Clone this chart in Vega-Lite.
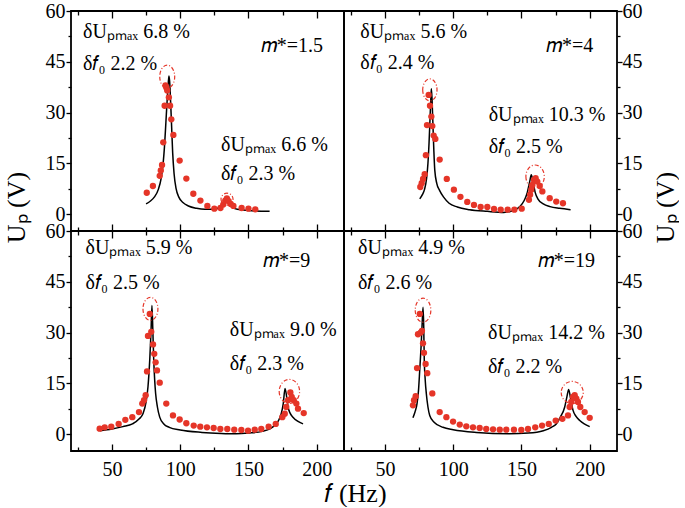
{
  "$schema": "https://vega.github.io/schema/vega-lite/v6.json",
  "padding": {"left": 2, "top": 0, "right": 0, "bottom": 0},
  "config": {
    "font": "Liberation Serif, Times New Roman, serif",
    "view": {"stroke": "#000", "strokeWidth": 1.8},
    "axis": {"domain": false, "grid": false, "labelFont": "Liberation Serif, Times New Roman, serif", "labelFontSize": 20, "labelColor": "#000", "tickColor": "#000", "tickWidth": 1.3, "titleFont": "Liberation Serif, Times New Roman, serif", "titleFontSize": 26, "titleFontWeight": "normal", "titleColor": "#000", "labelFlush": false}
  },
  "datasets": {
    "pts": [
      {"p":"A","f":75.5,"u":6.3},{"p":"A","f":80,"u":8.3},{"p":"A","f":85,"u":11.3},{"p":"A","f":85.8,"u":12.9},{"p":"A","f":86.7,"u":14.5},{"p":"A","f":87.6,"u":21.2},{"p":"A","f":88.6,"u":32},{"p":"A","f":89.2,"u":38},{"p":"A","f":89.8,"u":37.4},{"p":"A","f":90.5,"u":36.5},{"p":"A","f":91.7,"u":34.5},{"p":"A","f":92.6,"u":32},{"p":"A","f":93.5,"u":28},{"p":"A","f":95,"u":23.4},{"p":"A","f":99.6,"u":15.8},{"p":"A","f":104.5,"u":10.5},{"p":"A","f":109.6,"u":6},{"p":"A","f":114.8,"u":4},{"p":"A","f":119.9,"u":2.4},{"p":"A","f":125,"u":1.6},{"p":"A","f":129.5,"u":1.8},{"p":"A","f":131.5,"u":2.8},{"p":"A","f":133,"u":4.0},{"p":"A","f":134.2,"u":4.6},{"p":"A","f":135.5,"u":3.8},{"p":"A","f":137,"u":3},{"p":"A","f":139,"u":2.4},{"p":"A","f":145,"u":1.8},{"p":"A","f":150,"u":1.6},{"p":"A","f":155,"u":1.4},
      {"p":"B","f":75.9,"u":8.0},{"p":"B","f":76.9,"u":9.1},{"p":"B","f":77.9,"u":10.4},{"p":"B","f":79.1,"u":11.8},{"p":"B","f":80,"u":17.4},{"p":"B","f":80.8,"u":26.3},{"p":"B","f":82,"u":35.2},{"p":"B","f":83,"u":32},{"p":"B","f":84,"u":28.8},{"p":"B","f":84.7,"u":26},{"p":"B","f":85.7,"u":23.2},{"p":"B","f":86.9,"u":22.2},{"p":"B","f":90.1,"u":16.1},{"p":"B","f":95.3,"u":10.4},{"p":"B","f":100.5,"u":7.2},{"p":"B","f":105.3,"u":5.1},{"p":"B","f":110.3,"u":3.6},{"p":"B","f":115.2,"u":2.7},{"p":"B","f":120.1,"u":2.1},{"p":"B","f":125,"u":2.1},{"p":"B","f":129.9,"u":1.5},{"p":"B","f":134.8,"u":1.3},{"p":"B","f":139.9,"u":1.3},{"p":"B","f":144.8,"u":1.3},{"p":"B","f":150.2,"u":1.6},{"p":"B","f":155.5,"u":4.2},{"p":"B","f":156.3,"u":5.7},{"p":"B","f":157.2,"u":7.2},{"p":"B","f":158,"u":8.6},{"p":"B","f":159.2,"u":10.1},{"p":"B","f":160.4,"u":10.6},{"p":"B","f":161.6,"u":9.6},{"p":"B","f":163.4,"u":8.3},{"p":"B","f":165.3,"u":6.7},{"p":"B","f":170.7,"u":4.7},{"p":"B","f":175.5,"u":3.7},{"p":"B","f":180.4,"u":3.2},
      {"p":"C","f":41,"u":1.6},{"p":"C","f":44.7,"u":2.0},{"p":"C","f":49.5,"u":2.2},{"p":"C","f":54.9,"u":3.0},{"p":"C","f":59.8,"u":4.2},{"p":"C","f":64.9,"u":5.0},{"p":"C","f":69.8,"u":6.5},{"p":"C","f":72.2,"u":9.0},{"p":"C","f":73.5,"u":10},{"p":"C","f":74.7,"u":11.5},{"p":"C","f":75.7,"u":18.5},{"p":"C","f":76.4,"u":29},{"p":"C","f":77.7,"u":35.5},{"p":"C","f":78.8,"u":30.2},{"p":"C","f":80.1,"u":26.5},{"p":"C","f":81,"u":23.7},{"p":"C","f":82,"u":21.2},{"p":"C","f":83,"u":18.8},{"p":"C","f":85,"u":15.2},{"p":"C","f":89.8,"u":9.0},{"p":"C","f":94.7,"u":5.5},{"p":"C","f":99.6,"u":4.3},{"p":"C","f":104.5,"u":3.2},{"p":"C","f":109.9,"u":2.5},{"p":"C","f":114.7,"u":2.2},{"p":"C","f":119.6,"u":2.0},{"p":"C","f":124.5,"u":1.8},{"p":"C","f":129.4,"u":1.5},{"p":"C","f":134.5,"u":1.5},{"p":"C","f":139.6,"u":1.3},{"p":"C","f":144.8,"u":1.2},{"p":"C","f":149.7,"u":1.0},{"p":"C","f":154.6,"u":1.3},{"p":"C","f":159.4,"u":1.5},{"p":"C","f":164.8,"u":2.2},{"p":"C","f":170,"u":3.0},{"p":"C","f":174.8,"u":5.0},{"p":"C","f":176.6,"u":6.0},{"p":"C","f":177.7,"u":8.0},{"p":"C","f":179,"u":10},{"p":"C","f":180.7,"u":12.3},{"p":"C","f":181.7,"u":11},{"p":"C","f":183.2,"u":10},{"p":"C","f":185.1,"u":9.0},{"p":"C","f":186.3,"u":7.5},{"p":"C","f":190.5,"u":6.2},
      {"p":"D","f":70.5,"u":8.5},{"p":"D","f":71.3,"u":10},{"p":"D","f":72.5,"u":11.2},{"p":"D","f":73.5,"u":19.5},{"p":"D","f":74.2,"u":29.5},{"p":"D","f":75.5,"u":35.5},{"p":"D","f":76.2,"u":30},{"p":"D","f":77.1,"u":30.5},{"p":"D","f":77.9,"u":26.8},{"p":"D","f":78.6,"u":24},{"p":"D","f":79.8,"u":20.7},{"p":"D","f":81,"u":18},{"p":"D","f":84.7,"u":12},{"p":"D","f":90.1,"u":6.5},{"p":"D","f":95,"u":5},{"p":"D","f":99.9,"u":3.7},{"p":"D","f":104.8,"u":2.8},{"p":"D","f":109.6,"u":2.3},{"p":"D","f":114.5,"u":2.0},{"p":"D","f":119.4,"u":1.8},{"p":"D","f":124.2,"u":1.5},{"p":"D","f":129.2,"u":1.4},{"p":"D","f":134.1,"u":1.3},{"p":"D","f":138.9,"u":1.3},{"p":"D","f":144.5,"u":1.3},{"p":"D","f":149.9,"u":1.2},{"p":"D","f":154.8,"u":1.5},{"p":"D","f":160.1,"u":2.0},{"p":"D","f":165.1,"u":2.5},{"p":"D","f":170,"u":3.0},{"p":"D","f":175.1,"u":4.0},{"p":"D","f":180,"u":4.5},{"p":"D","f":184.1,"u":5.5},{"p":"D","f":185.3,"u":8},{"p":"D","f":186.5,"u":9.5},{"p":"D","f":187.8,"u":11},{"p":"D","f":189,"u":11.5},{"p":"D","f":190.2,"u":10.5},{"p":"D","f":191.4,"u":9.5},{"p":"D","f":193.1,"u":8},{"p":"D","f":196.3,"u":6.5},{"p":"D","f":200,"u":4.8}
    ],
    "fit": [
      {"p":"A","f":75,"u":3.0},{"p":"A","f":78,"u":3.8},{"p":"A","f":81,"u":5.0},{"p":"A","f":84,"u":7.3},{"p":"A","f":86,"u":10.5},{"p":"A","f":87.5,"u":15},{"p":"A","f":88.5,"u":20},{"p":"A","f":89.5,"u":27},{"p":"A","f":90.5,"u":34},{"p":"A","f":91.3,"u":39},{"p":"A","f":91.8,"u":40.8},{"p":"A","f":92.3,"u":39},{"p":"A","f":93,"u":33},{"p":"A","f":93.7,"u":26},{"p":"A","f":94.5,"u":18},{"p":"A","f":95.5,"u":12},{"p":"A","f":97,"u":7.5},{"p":"A","f":99,"u":5},{"p":"A","f":102,"u":3.4},{"p":"A","f":106,"u":2.4},{"p":"A","f":112,"u":1.7},{"p":"A","f":118,"u":1.4},{"p":"A","f":124,"u":1.4},{"p":"A","f":128,"u":1.8},{"p":"A","f":131,"u":2.6},{"p":"A","f":133,"u":3.6},{"p":"A","f":134,"u":4.0},{"p":"A","f":135,"u":3.4},{"p":"A","f":137,"u":2.3},{"p":"A","f":140,"u":1.6},{"p":"A","f":146,"u":1.2},{"p":"A","f":155,"u":0.9},{"p":"A","f":165.5,"u":0.8},
      {"p":"B","f":75.5,"u":4.5},{"p":"B","f":77.5,"u":5.8},{"p":"B","f":79,"u":7.3},{"p":"B","f":80.5,"u":10.5},{"p":"B","f":81.5,"u":15},{"p":"B","f":82.3,"u":21},{"p":"B","f":83,"u":28},{"p":"B","f":83.6,"u":34},{"p":"B","f":84,"u":37},{"p":"B","f":84.5,"u":34},{"p":"B","f":85.1,"u":27},{"p":"B","f":85.8,"u":19},{"p":"B","f":86.5,"u":13},{"p":"B","f":88,"u":9},{"p":"B","f":90,"u":7},{"p":"B","f":93,"u":5},{"p":"B","f":97,"u":3.2},{"p":"B","f":103,"u":2.1},{"p":"B","f":112,"u":1.3},{"p":"B","f":125,"u":0.8},{"p":"B","f":137,"u":0.5},{"p":"B","f":145,"u":1.2},{"p":"B","f":149,"u":2.3},{"p":"B","f":152,"u":4},{"p":"B","f":154,"u":6},{"p":"B","f":156,"u":9.5},{"p":"B","f":157.2,"u":11.6},{"p":"B","f":158.5,"u":9.5},{"p":"B","f":160,"u":6.5},{"p":"B","f":162,"u":4.5},{"p":"B","f":166,"u":3},{"p":"B","f":171,"u":2.2},{"p":"B","f":178,"u":1.7},{"p":"B","f":186,"u":1.3},
      {"p":"C","f":41,"u":1.0},{"p":"C","f":50,"u":1.5},{"p":"C","f":58,"u":2.2},{"p":"C","f":65,"u":3.0},{"p":"C","f":70,"u":4.5},{"p":"C","f":72.7,"u":6},{"p":"C","f":75,"u":9.5},{"p":"C","f":76.4,"u":14},{"p":"C","f":77.7,"u":22},{"p":"C","f":78.6,"u":30},{"p":"C","f":79.3,"u":38},{"p":"C","f":80,"u":30},{"p":"C","f":80.6,"u":22},{"p":"C","f":81.3,"u":16},{"p":"C","f":82,"u":12},{"p":"C","f":83.3,"u":8},{"p":"C","f":85,"u":5},{"p":"C","f":88,"u":3},{"p":"C","f":92,"u":2.0},{"p":"C","f":100,"u":1.2},{"p":"C","f":116,"u":0.5},{"p":"C","f":130,"u":0.2},{"p":"C","f":141,"u":0.1},{"p":"C","f":150,"u":0.3},{"p":"C","f":160,"u":0.8},{"p":"C","f":166,"u":1.6},{"p":"C","f":169,"u":2.5},{"p":"C","f":172,"u":4},{"p":"C","f":174,"u":6},{"p":"C","f":175.5,"u":9},{"p":"C","f":176.8,"u":13.5},{"p":"C","f":178,"u":11},{"p":"C","f":179,"u":8},{"p":"C","f":180.5,"u":6.2},{"p":"C","f":182.6,"u":5},{"p":"C","f":186,"u":3.8},{"p":"C","f":190,"u":3},
      {"p":"D","f":70.5,"u":4.8},{"p":"D","f":72,"u":6.5},{"p":"D","f":73.5,"u":9},{"p":"D","f":74.6,"u":13},{"p":"D","f":75.5,"u":19},{"p":"D","f":76.5,"u":26},{"p":"D","f":77.3,"u":33},{"p":"D","f":77.9,"u":37.5},{"p":"D","f":78.4,"u":32},{"p":"D","f":78.8,"u":22},{"p":"D","f":79.5,"u":16},{"p":"D","f":80.3,"u":12},{"p":"D","f":81.5,"u":8},{"p":"D","f":82.8,"u":5.5},{"p":"D","f":86,"u":3.5},{"p":"D","f":92.5,"u":2},{"p":"D","f":100,"u":1.3},{"p":"D","f":117,"u":0.5},{"p":"D","f":141,"u":0.1},{"p":"D","f":155,"u":0.3},{"p":"D","f":166,"u":1.0},{"p":"D","f":172,"u":2},{"p":"D","f":175.5,"u":3},{"p":"D","f":178.5,"u":5},{"p":"D","f":181.7,"u":8},{"p":"D","f":183.3,"u":11},{"p":"D","f":184.6,"u":13.2},{"p":"D","f":186,"u":10.5},{"p":"D","f":187.8,"u":7},{"p":"D","f":190,"u":5.2},{"p":"D","f":192.7,"u":4},{"p":"D","f":196,"u":3},{"p":"D","f":200,"u":2.2}
    ],
    "ell": [
      {"p":"A","pk":1,"f":90.5,"u":40.6},{"p":"A","pk":2,"f":134.3,"u":4.4},
      {"p":"B","pk":1,"f":82.9,"u":36.7},{"p":"B","pk":2,"f":160,"u":11.1},
      {"p":"C","pk":1,"f":78.2,"u":37},{"p":"C","pk":2,"f":180,"u":12.6},
      {"p":"D","pk":1,"f":77.9,"u":36.6},{"p":"D","pk":2,"f":187.2,"u":12.3}
    ],
    "ann": [
      {"p":"A","f":28.8,"u":51.9,"t":"δUₚₘₐₓ 6.8 %"},{"p":"A","f":28.8,"u":42.5,"t":"δ𝑓₀ 2.2 %"},{"p":"A","f":159,"u":48,"t":"𝑚*=1.5"},{"p":"A","f":129.9,"u":18.6,"t":"δUₚₘₐₓ 6.6 %"},{"p":"A","f":129.9,"u":10,"t":"δ𝑓₀ 2.3 %"},
      {"p":"B","f":31.9,"u":51.9,"t":"δUₚₘₐₓ 5.6 %"},{"p":"B","f":31.9,"u":43,"t":"δ𝑓₀ 2.4 %"},{"p":"B","f":168,"u":48,"t":"𝑚*=4"},{"p":"B","f":126,"u":27.4,"t":"δUₚₘₐₓ 10.3 %"},{"p":"B","f":126,"u":18,"t":"δ𝑓₀ 2.5 %"},
      {"p":"C","f":30.7,"u":53.3,"t":"δUₚₘₐₓ 5.9 %"},{"p":"C","f":30.7,"u":43,"t":"δ𝑓₀ 2.5 %"},{"p":"C","f":160.6,"u":49.5,"t":"𝑚*=9"},{"p":"C","f":136.3,"u":29,"t":"δUₚₘₐₓ 9.0 %"},{"p":"C","f":136.3,"u":19,"t":"δ𝑓₀ 2.3 %"},
      {"p":"D","f":30.3,"u":53.3,"t":"δUₚₘₐₓ 4.9 %"},{"p":"D","f":30.3,"u":43,"t":"δ𝑓₀ 2.6 %"},{"p":"D","f":162,"u":49.5,"t":"𝑚*=19"},{"p":"D","f":125.5,"u":28,"t":"δUₚₘₐₓ 14.2 %"},{"p":"D","f":125.5,"u":18,"t":"δ𝑓₀ 2.2 %"}
    ]
  },
  "spacing": 0,
  "bounds": "flush",
  "columns": 2,
  "concat": [
    {
      "width": 273, "height": 220,
      "resolve": {"axis": {"x": "independent", "y": "independent"}},
      "layer": [
        {"data": {"name": "fit"}, "transform": [{"filter": "datum.p === 'A'"}],
         "mark": {"type": "line", "color": "#000", "strokeWidth": 1.5, "interpolate": "monotone"},
         "encoding": {
           "x": {"field": "f", "type": "quantitative", "scale": {"domain": [20, 220], "nice": false}, "axis": {"orient": "bottom", "values": [25,50,75,100,125,150,175,200], "labels": false, "tickSize": {"condition": {"test": "datum.value % 50 === 0", "value": -7}, "value": -4}, "title": null}},
           "y": {"field": "u", "type": "quantitative", "scale": {"domain": [-5, 60], "nice": false}, "axis": {"orient": "left", "values": [0,7.5,15,22.5,30,37.5,45,52.5,60], "labelExpr": "datum.value % 15 === 0 ? datum.label : ''", "tickSize": {"condition": {"test": "datum.value % 15 === 0", "value": 5}, "value": 3}, "labelPadding": 1, "title": "Uₚ (V)", "titleX": -55, "titleY": 196, "titleBaseline": "middle"}}
         }},
        {"data": {"name": "pts"}, "transform": [{"filter": "datum.p === 'A'"}],
         "mark": {"type": "circle", "color": "#e53528", "size": 40, "opacity": 1},
         "encoding": {
           "x": {"field": "f", "type": "quantitative", "scale": {"domain": [20, 220], "nice": false}, "axis": {"orient": "top", "values": [25,50,75,100,125,150,175,200], "labels": false, "tickSize": {"condition": {"test": "datum.value % 50 === 0", "value": -7}, "value": -4}, "title": null}},
           "y": {"field": "u", "type": "quantitative", "scale": {"domain": [-5, 60], "nice": false}, "axis": null}
         }},
        {"data": {"name": "ell"}, "transform": [{"filter": "datum.p === 'A' && datum.pk === 1"}],
         "mark": {"type": "point", "shape": "M -0.65 0 A 0.65 1 0 1 0 0.65 0 A 0.65 1 0 1 0 -0.65 0 Z", "size": 529, "filled": false, "color": "#e53528", "strokeWidth": 1.2, "strokeDash": [4, 2, 1, 2], "opacity": 1},
         "encoding": {"x": {"field": "f", "type": "quantitative", "scale": {"domain": [20, 220], "nice": false}, "axis": null}, "y": {"field": "u", "type": "quantitative", "scale": {"domain": [-5, 60], "nice": false}, "axis": null}}},
        {"data": {"name": "ell"}, "transform": [{"filter": "datum.p === 'A' && datum.pk === 2"}],
         "mark": {"type": "point", "shape": "M -1 0 A 1 1 0 1 0 1 0 A 1 1 0 1 0 -1 0 Z", "size": 144, "filled": false, "color": "#e53528", "strokeWidth": 1.2, "strokeDash": [4, 2, 1, 2], "opacity": 1},
         "encoding": {"x": {"field": "f", "type": "quantitative", "scale": {"domain": [20, 220], "nice": false}, "axis": null}, "y": {"field": "u", "type": "quantitative", "scale": {"domain": [-5, 60], "nice": false}, "axis": null}}},
        {"data": {"name": "ann"}, "transform": [{"filter": "datum.p === 'A'"}],
         "mark": {"type": "text", "align": "left", "baseline": "alphabetic", "fontSize": 20, "font": "Liberation Serif, Times New Roman, serif", "color": "#000"},
         "encoding": {"x": {"field": "f", "type": "quantitative", "scale": {"domain": [20, 220], "nice": false}, "axis": null}, "y": {"field": "u", "type": "quantitative", "scale": {"domain": [-5, 60], "nice": false}, "axis": null}, "text": {"field": "t"}}}
      ]
    },
    {
      "width": 273, "height": 220,
      "resolve": {"axis": {"x": "independent", "y": "independent"}},
      "layer": [
        {"data": {"name": "fit"}, "transform": [{"filter": "datum.p === 'B'"}],
         "mark": {"type": "line", "color": "#000", "strokeWidth": 1.5, "interpolate": "monotone"},
         "encoding": {
           "x": {"field": "f", "type": "quantitative", "scale": {"domain": [20, 220], "nice": false}, "axis": {"orient": "bottom", "values": [25,50,75,100,125,150,175,200], "labels": false, "tickSize": {"condition": {"test": "datum.value % 50 === 0", "value": -7}, "value": -4}, "title": null}},
           "y": {"field": "u", "type": "quantitative", "scale": {"domain": [-5, 60], "nice": false}, "axis": {"orient": "right", "values": [0,7.5,15,22.5,30,37.5,45,52.5,60], "labelExpr": "datum.value % 15 === 0 ? datum.label : ''", "tickSize": {"condition": {"test": "datum.value % 15 === 0", "value": 5}, "value": 3}, "labelPadding": 0, "title": "Uₚ (V)", "titleX": 48, "titleY": 196, "titleAngle": 270, "titleBaseline": "middle"}}
         }},
        {"data": {"name": "pts"}, "transform": [{"filter": "datum.p === 'B'"}],
         "mark": {"type": "circle", "color": "#e53528", "size": 40, "opacity": 1},
         "encoding": {
           "x": {"field": "f", "type": "quantitative", "scale": {"domain": [20, 220], "nice": false}, "axis": {"orient": "top", "values": [25,50,75,100,125,150,175,200], "labels": false, "tickSize": {"condition": {"test": "datum.value % 50 === 0", "value": -7}, "value": -4}, "title": null}},
           "y": {"field": "u", "type": "quantitative", "scale": {"domain": [-5, 60], "nice": false}, "axis": null}
         }},
        {"data": {"name": "ell"}, "transform": [{"filter": "datum.p === 'B' && datum.pk === 1"}],
         "mark": {"type": "point", "shape": "M -0.65 0 A 0.65 1 0 1 0 0.65 0 A 0.65 1 0 1 0 -0.65 0 Z", "size": 484, "filled": false, "color": "#e53528", "strokeWidth": 1.2, "strokeDash": [4, 2, 1, 2], "opacity": 1},
         "encoding": {"x": {"field": "f", "type": "quantitative", "scale": {"domain": [20, 220], "nice": false}, "axis": null}, "y": {"field": "u", "type": "quantitative", "scale": {"domain": [-5, 60], "nice": false}, "axis": null}}},
        {"data": {"name": "ell"}, "transform": [{"filter": "datum.p === 'B' && datum.pk === 2"}],
         "mark": {"type": "point", "shape": "M -0.8 0 A 0.8 1 0 1 0 0.8 0 A 0.8 1 0 1 0 -0.8 0 Z", "size": 529, "filled": false, "color": "#e53528", "strokeWidth": 1.2, "strokeDash": [4, 2, 1, 2], "opacity": 1},
         "encoding": {"x": {"field": "f", "type": "quantitative", "scale": {"domain": [20, 220], "nice": false}, "axis": null}, "y": {"field": "u", "type": "quantitative", "scale": {"domain": [-5, 60], "nice": false}, "axis": null}}},
        {"data": {"name": "ann"}, "transform": [{"filter": "datum.p === 'B'"}],
         "mark": {"type": "text", "align": "left", "baseline": "alphabetic", "fontSize": 20, "font": "Liberation Serif, Times New Roman, serif", "color": "#000"},
         "encoding": {"x": {"field": "f", "type": "quantitative", "scale": {"domain": [20, 220], "nice": false}, "axis": null}, "y": {"field": "u", "type": "quantitative", "scale": {"domain": [-5, 60], "nice": false}, "axis": null}, "text": {"field": "t"}}}
      ]
    },
    {
      "width": 273, "height": 220,
      "resolve": {"axis": {"x": "independent", "y": "independent"}},
      "layer": [
        {"data": {"name": "fit"}, "transform": [{"filter": "datum.p === 'C'"}],
         "mark": {"type": "line", "color": "#000", "strokeWidth": 1.5, "interpolate": "monotone"},
         "encoding": {
           "x": {"field": "f", "type": "quantitative", "scale": {"domain": [20, 220], "nice": false}, "axis": {"orient": "bottom", "values": [25,50,75,100,125,150,175,200], "labelExpr": "datum.value % 50 === 0 ? datum.label : ''", "tickSize": {"condition": {"test": "datum.value % 50 === 0", "value": -7}, "value": -4}, "labelPadding": 15, "title": "𝑓 (Hz)", "titleX": 284, "titleY": 50, "titleBaseline": "alphabetic"}},
           "y": {"field": "u", "type": "quantitative", "scale": {"domain": [-5, 60], "nice": false}, "axis": {"orient": "left", "values": [0,7.5,15,22.5,30,37.5,45,52.5,60], "labelExpr": "datum.value % 15 === 0 ? datum.label : ''", "tickSize": {"condition": {"test": "datum.value % 15 === 0", "value": 5}, "value": 3}, "labelPadding": 1, "title": null}}
         }},
        {"data": {"name": "pts"}, "transform": [{"filter": "datum.p === 'C'"}],
         "mark": {"type": "circle", "color": "#e53528", "size": 40, "opacity": 1},
         "encoding": {
           "x": {"field": "f", "type": "quantitative", "scale": {"domain": [20, 220], "nice": false}, "axis": {"orient": "top", "values": [25,50,75,100,125,150,175,200], "labels": false, "tickSize": {"condition": {"test": "datum.value % 50 === 0", "value": -7}, "value": -4}, "title": null}},
           "y": {"field": "u", "type": "quantitative", "scale": {"domain": [-5, 60], "nice": false}, "axis": null}
         }},
        {"data": {"name": "ell"}, "transform": [{"filter": "datum.p === 'C' && datum.pk === 1"}],
         "mark": {"type": "point", "shape": "M -0.65 0 A 0.65 1 0 1 0 0.65 0 A 0.65 1 0 1 0 -0.65 0 Z", "size": 529, "filled": false, "color": "#e53528", "strokeWidth": 1.2, "strokeDash": [4, 2, 1, 2], "opacity": 1},
         "encoding": {"x": {"field": "f", "type": "quantitative", "scale": {"domain": [20, 220], "nice": false}, "axis": null}, "y": {"field": "u", "type": "quantitative", "scale": {"domain": [-5, 60], "nice": false}, "axis": null}}},
        {"data": {"name": "ell"}, "transform": [{"filter": "datum.p === 'C' && datum.pk === 2"}],
         "mark": {"type": "point", "shape": "M -0.85 0 A 0.85 1 0 1 0 0.85 0 A 0.85 1 0 1 0 -0.85 0 Z", "size": 576, "filled": false, "color": "#e53528", "strokeWidth": 1.2, "strokeDash": [4, 2, 1, 2], "opacity": 1},
         "encoding": {"x": {"field": "f", "type": "quantitative", "scale": {"domain": [20, 220], "nice": false}, "axis": null}, "y": {"field": "u", "type": "quantitative", "scale": {"domain": [-5, 60], "nice": false}, "axis": null}}},
        {"data": {"name": "ann"}, "transform": [{"filter": "datum.p === 'C'"}],
         "mark": {"type": "text", "align": "left", "baseline": "alphabetic", "fontSize": 20, "font": "Liberation Serif, Times New Roman, serif", "color": "#000"},
         "encoding": {"x": {"field": "f", "type": "quantitative", "scale": {"domain": [20, 220], "nice": false}, "axis": null}, "y": {"field": "u", "type": "quantitative", "scale": {"domain": [-5, 60], "nice": false}, "axis": null}, "text": {"field": "t"}}}
      ]
    },
    {
      "width": 273, "height": 220,
      "resolve": {"axis": {"x": "independent", "y": "independent"}},
      "layer": [
        {"data": {"name": "fit"}, "transform": [{"filter": "datum.p === 'D'"}],
         "mark": {"type": "line", "color": "#000", "strokeWidth": 1.5, "interpolate": "monotone"},
         "encoding": {
           "x": {"field": "f", "type": "quantitative", "scale": {"domain": [20, 220], "nice": false}, "axis": {"orient": "bottom", "values": [25,50,75,100,125,150,175,200], "labelExpr": "datum.value % 50 === 0 ? datum.label : ''", "tickSize": {"condition": {"test": "datum.value % 50 === 0", "value": -7}, "value": -4}, "labelPadding": 15, "title": null}},
           "y": {"field": "u", "type": "quantitative", "scale": {"domain": [-5, 60], "nice": false}, "axis": {"orient": "right", "values": [0,7.5,15,22.5,30,37.5,45,52.5,60], "labelExpr": "datum.value % 15 === 0 ? datum.label : ''", "tickSize": {"condition": {"test": "datum.value % 15 === 0", "value": 5}, "value": 3}, "labelPadding": 0, "title": null}}
         }},
        {"data": {"name": "pts"}, "transform": [{"filter": "datum.p === 'D'"}],
         "mark": {"type": "circle", "color": "#e53528", "size": 40, "opacity": 1},
         "encoding": {
           "x": {"field": "f", "type": "quantitative", "scale": {"domain": [20, 220], "nice": false}, "axis": {"orient": "top", "values": [25,50,75,100,125,150,175,200], "labels": false, "tickSize": {"condition": {"test": "datum.value % 50 === 0", "value": -7}, "value": -4}, "title": null}},
           "y": {"field": "u", "type": "quantitative", "scale": {"domain": [-5, 60], "nice": false}, "axis": null}
         }},
        {"data": {"name": "ell"}, "transform": [{"filter": "datum.p === 'D' && datum.pk === 1"}],
         "mark": {"type": "point", "shape": "M -0.65 0 A 0.65 1 0 1 0 0.65 0 A 0.65 1 0 1 0 -0.65 0 Z", "size": 576, "filled": false, "color": "#e53528", "strokeWidth": 1.2, "strokeDash": [4, 2, 1, 2], "opacity": 1},
         "encoding": {"x": {"field": "f", "type": "quantitative", "scale": {"domain": [20, 220], "nice": false}, "axis": null}, "y": {"field": "u", "type": "quantitative", "scale": {"domain": [-5, 60], "nice": false}, "axis": null}}},
        {"data": {"name": "ell"}, "transform": [{"filter": "datum.p === 'D' && datum.pk === 2"}],
         "mark": {"type": "point", "shape": "M -1 0 A 1 1 0 1 0 1 0 A 1 1 0 1 0 -1 0 Z", "size": 484, "filled": false, "color": "#e53528", "strokeWidth": 1.2, "strokeDash": [4, 2, 1, 2], "opacity": 1},
         "encoding": {"x": {"field": "f", "type": "quantitative", "scale": {"domain": [20, 220], "nice": false}, "axis": null}, "y": {"field": "u", "type": "quantitative", "scale": {"domain": [-5, 60], "nice": false}, "axis": null}}},
        {"data": {"name": "ann"}, "transform": [{"filter": "datum.p === 'D'"}],
         "mark": {"type": "text", "align": "left", "baseline": "alphabetic", "fontSize": 20, "font": "Liberation Serif, Times New Roman, serif", "color": "#000"},
         "encoding": {"x": {"field": "f", "type": "quantitative", "scale": {"domain": [20, 220], "nice": false}, "axis": null}, "y": {"field": "u", "type": "quantitative", "scale": {"domain": [-5, 60], "nice": false}, "axis": null}, "text": {"field": "t"}}}
      ]
    }
  ]
}
